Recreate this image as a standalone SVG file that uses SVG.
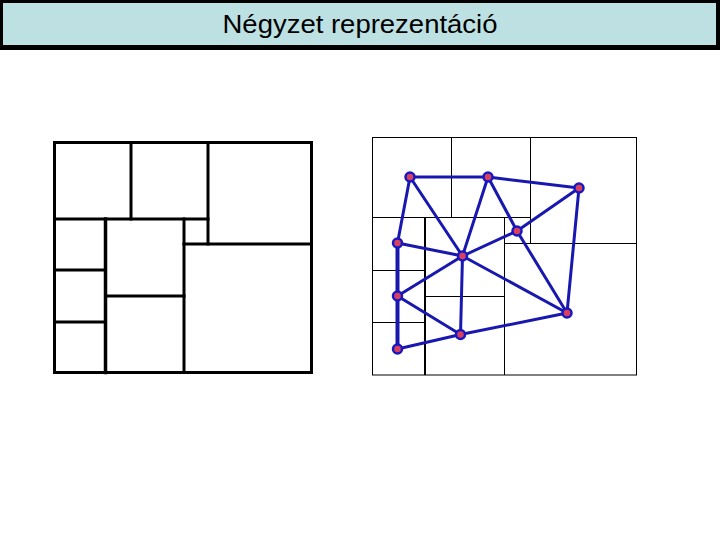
<svg xmlns="http://www.w3.org/2000/svg" width="720" height="540" viewBox="0 0 720 540">
<style>
.thick{stroke:#000;stroke-width:3;fill:none;stroke-linecap:square}
.thin{stroke:#000;stroke-width:1;fill:none}
.edge{stroke:#1818b0;stroke-width:3;fill:none;stroke-linecap:round}
.node{fill:#d9405e;stroke:#1818c0;stroke-width:2.5}
</style>
<rect width="720" height="540" fill="#fff"/>
<g id="title">
<rect x="0" y="0" width="720" height="50" fill="#000"/>
<rect x="3" y="3" width="713" height="42" fill="#bde0e3"/>
<text x="360" y="33" text-anchor="middle" font-family="Liberation Sans, Arial, sans-serif" font-size="26.5" textLength="275" lengthAdjust="spacingAndGlyphs" fill="#000">Négyzet reprezentáció</text>
</g>
<g id="quadtree-left">
<rect class="thick" x="54.5" y="142.5" width="257" height="230"/>
<line class="thick" x1="54.5" y1="219" x2="208" y2="219"/>
<line class="thick" x1="131" y1="142.5" x2="131" y2="219"/>
<line class="thick" x1="208" y1="142.5" x2="208" y2="244"/>
<line class="thick" x1="184" y1="244" x2="311.5" y2="244"/>
<line class="thick" x1="184" y1="219" x2="184" y2="372.5"/>
<line class="thick" x1="105.5" y1="219" x2="105.5" y2="372.5" style="stroke-width:3.5"/>
<line class="thick" x1="54.5" y1="270" x2="105.5" y2="270"/>
<line class="thick" x1="54.5" y1="322" x2="105.5" y2="322"/>
<line class="thick" x1="105.5" y1="296" x2="184" y2="296"/>
</g>
<g id="quadtree-right">
<rect class="thin" x="372.5" y="137.5" width="264" height="237.5"/>
<line class="thin" x1="451.5" y1="137.5" x2="451.5" y2="217.5"/>
<line class="thin" x1="530.5" y1="137.5" x2="530.5" y2="243.5"/>
<line class="thin" x1="372.5" y1="217.5" x2="530.5" y2="217.5"/>
<line class="thin" x1="504.5" y1="243.5" x2="636.5" y2="243.5"/>
<line class="thin" x1="504.5" y1="217.5" x2="504.5" y2="375"/>
<line class="thin" x1="425" y1="217.5" x2="425" y2="375" style="stroke-width:2"/>
<line class="thin" x1="372.5" y1="270.5" x2="425" y2="270.5"/>
<line class="thin" x1="372.5" y1="322.5" x2="425" y2="322.5"/>
<line class="thin" x1="425" y1="296.5" x2="504.5" y2="296.5"/>
</g>
<g id="connectors">
<line class="edge" x1="410" y1="177" x2="488" y2="177"/>
<line class="edge" x1="488" y1="177" x2="579" y2="188"/>
<line class="edge" x1="410" y1="177" x2="397.5" y2="243"/>
<line class="edge" x1="410" y1="177" x2="462.5" y2="256"/>
<line class="edge" x1="488" y1="177" x2="462.5" y2="256"/>
<line class="edge" x1="488" y1="177" x2="517" y2="231"/>
<line class="edge" x1="517" y1="231" x2="579" y2="188"/>
<line class="edge" x1="517" y1="231" x2="462.5" y2="256"/>
<line class="edge" x1="517" y1="231" x2="567" y2="313"/>
<line class="edge" x1="579" y1="188" x2="567" y2="313"/>
<line class="edge" x1="397.5" y1="243" x2="462.5" y2="256"/>
<line class="edge" x1="397.5" y1="243" x2="397.5" y2="296" style="stroke-width:4"/>
<line class="edge" x1="397.5" y1="296" x2="462.5" y2="256"/>
<line class="edge" x1="397.5" y1="296" x2="460.5" y2="334.5"/>
<line class="edge" x1="462.5" y1="256" x2="460.5" y2="334.5"/>
<line class="edge" x1="462.5" y1="256" x2="567" y2="313"/>
<line class="edge" x1="397.5" y1="296" x2="397.5" y2="349" style="stroke-width:4"/>
<line class="edge" x1="397.5" y1="349" x2="460.5" y2="334.5"/>
<line class="edge" x1="460.5" y1="334.5" x2="567" y2="313"/>
</g>
<g id="n1"><circle class="node" cx="410" cy="177" r="4.5"/></g>
<g id="n2"><circle class="node" cx="488" cy="177" r="4.5"/></g>
<g id="n3"><circle class="node" cx="579" cy="188" r="4.5"/></g>
<g id="n4"><circle class="node" cx="517" cy="231" r="4.5"/></g>
<g id="n5"><circle class="node" cx="397.5" cy="243" r="4.5"/></g>
<g id="n6"><circle class="node" cx="462.5" cy="256" r="4.5"/></g>
<g id="n7"><circle class="node" cx="397.5" cy="296" r="4.5"/></g>
<g id="n8"><circle class="node" cx="567" cy="313" r="4.5"/></g>
<g id="n9"><circle class="node" cx="460.5" cy="334.5" r="4.5"/></g>
<g id="n10"><circle class="node" cx="397.5" cy="349" r="4.5"/></g>
</svg>
